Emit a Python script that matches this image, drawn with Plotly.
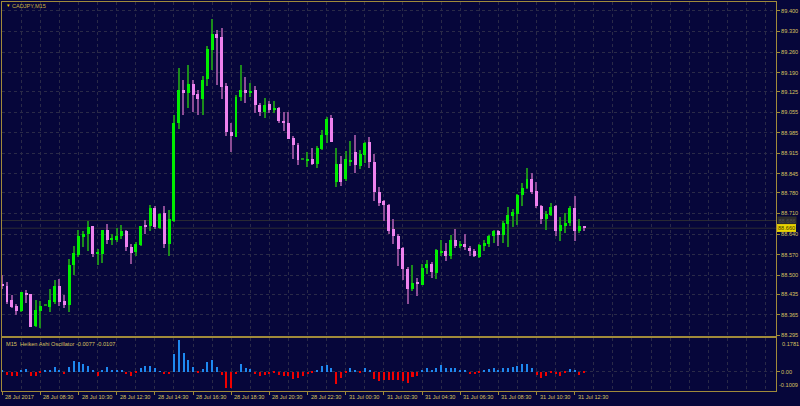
import plotly.graph_objects as go

# ---------------- data (CADJPY M15, 28 Jul 2017 06:30 -> 31 Jul 2017 12:45) ----------------
opens = [88.471, 88.463, 88.414, 88.395, 88.379, 88.438, 88.435, 88.328, 88.378, 88.395,
         88.392, 88.409, 88.463, 88.413, 88.398, 88.536, 88.570, 88.631, 88.640, 88.667,
         88.573, 88.573, 88.653, 88.621, 88.621, 88.633, 88.649, 88.597, 88.579, 88.604,
         88.669, 88.667, 88.729, 88.660, 88.712, 88.607, 88.683, 89.019, 89.132, 89.121,
         89.150, 89.116, 89.101, 89.168, 89.268, 89.320, 89.311, 89.146, 88.987, 88.971,
         89.108, 89.132, 89.121, 89.130, 89.081, 89.055, 89.082, 89.065, 89.069, 89.026,
         89.019, 88.967, 88.944, 88.893, 88.892, 88.897, 88.879, 88.929, 88.976, 89.034,
         88.818, 88.878, 88.827, 88.888, 88.921, 88.872, 88.909, 88.952, 88.887, 88.784,
         88.752, 88.740, 88.658, 88.635, 88.592, 88.522, 88.454, 88.478, 88.468, 88.526,
         88.539, 88.509, 88.575, 88.582, 88.567, 88.621, 88.601, 88.607, 88.593, 88.584,
         88.562, 88.599, 88.607, 88.632, 88.650, 88.637, 88.675, 88.701, 88.709, 88.773,
         88.797, 88.826, 88.786, 88.735, 88.692, 88.706, 88.735, 88.649, 88.667, 88.678,
         88.728, 88.649, 88.667]
highs = [88.502, 88.477, 88.434, 88.403, 88.443, 88.448, 88.437, 88.414, 88.411, 88.395,
         88.454, 88.482, 88.488, 88.431, 88.556, 88.601, 88.655, 88.652, 88.686, 88.669,
         88.590, 88.655, 88.675, 88.641, 88.660, 88.671, 88.655, 88.607, 88.613, 88.669,
         88.689, 88.740, 88.737, 88.712, 88.735, 88.723, 89.044, 89.206, 89.166, 89.216,
         89.166, 89.132, 89.180, 89.281, 89.373, 89.336, 89.341, 89.155, 89.019, 89.115,
         89.217, 89.175, 89.153, 89.143, 89.087, 89.102, 89.093, 89.093, 89.072, 89.057,
         89.057, 88.974, 88.949, 88.893, 88.921, 88.932, 88.940, 88.994, 89.040, 89.047,
         88.932, 88.906, 88.923, 88.957, 88.976, 88.926, 88.952, 88.972, 88.912, 88.802,
         88.757, 88.742, 88.692, 88.641, 88.596, 88.528, 88.536, 88.492, 88.539, 88.550,
         88.545, 88.590, 88.621, 88.610, 88.638, 88.658, 88.618, 88.641, 88.601, 88.590,
         88.607, 88.621, 88.638, 88.654, 88.655, 88.684, 88.731, 88.726, 88.776, 88.814,
         88.864, 88.848, 88.816, 88.739, 88.720, 88.746, 88.739, 88.697, 88.712, 88.735,
         88.771, 88.692, 88.669]
lows = [88.452, 88.403, 88.387, 88.366, 88.376, 88.406, 88.322, 88.324, 88.319, 88.395,
        88.376, 88.403, 88.395, 88.387, 88.376, 88.502, 88.562, 88.596, 88.581, 88.562,
        88.533, 88.542, 88.607, 88.604, 88.613, 88.624, 88.581, 88.539, 88.565, 88.599,
        88.641, 88.649, 88.658, 88.658, 88.592, 88.567, 88.681, 88.997, 89.047, 89.070,
        89.055, 89.047, 89.047, 89.143, 89.200, 89.149, 89.101, 88.974, 88.918, 88.969,
        89.093, 89.087, 89.108, 89.053, 89.042, 89.036, 89.053, 89.053, 89.019, 88.991,
        88.963, 88.895, 88.875, 88.893, 88.867, 88.876, 88.865, 88.926, 88.949, 88.952,
        88.802, 88.804, 88.821, 88.872, 88.848, 88.861, 88.881, 88.865, 88.754, 88.737,
        88.686, 88.641, 88.607, 88.531, 88.482, 88.403, 88.445, 88.430, 88.465, 88.505,
        88.491, 88.488, 88.567, 88.548, 88.554, 88.592, 88.592, 88.587, 88.567, 88.562,
        88.559, 88.582, 88.596, 88.610, 88.601, 88.610, 88.596, 88.663, 88.671, 88.735,
        88.793, 88.776, 88.728, 88.675, 88.655, 88.701, 88.632, 88.618, 88.644, 88.669,
        88.618, 88.644, 88.649]
closes = [88.463, 88.409, 88.390, 88.378, 88.441, 88.431, 88.325, 88.381, 88.395, 88.395,
          88.414, 88.463, 88.409, 88.398, 88.536, 88.576, 88.633, 88.640, 88.665, 88.573,
          88.579, 88.653, 88.621, 88.626, 88.635, 88.649, 88.596, 88.576, 88.607, 88.667,
          88.665, 88.729, 88.665, 88.708, 88.607, 88.692, 89.019, 89.130, 89.119, 89.150,
          89.115, 89.101, 89.166, 89.270, 89.321, 89.307, 89.141, 88.987, 88.974, 89.108,
          89.132, 89.121, 89.129, 89.081, 89.055, 89.081, 89.064, 89.069, 89.025, 89.021,
          88.965, 88.944, 88.893, 88.893, 88.895, 88.878, 88.932, 88.977, 89.031, 88.955,
          88.878, 88.818, 88.897, 88.893, 88.876, 88.912, 88.949, 88.886, 88.782, 88.746,
          88.740, 88.652, 88.635, 88.590, 88.522, 88.452, 88.475, 88.469, 88.526, 88.539,
          88.511, 88.587, 88.582, 88.567, 88.621, 88.601, 88.607, 88.596, 88.582, 88.564,
          88.604, 88.610, 88.633, 88.649, 88.638, 88.678, 88.705, 88.714, 88.773, 88.796,
          88.826, 88.782, 88.735, 88.692, 88.709, 88.731, 88.649, 88.671, 88.678, 88.728,
          88.649, 88.667, 88.660]
osc = [0.005, -0.0175, -0.023, -0.023, 0.004, 0.012, -0.021, -0.021, -0.004, 0.011,
       0.011, 0.023, 0.011, -0.011, 0.026, 0.056, 0.053, 0.040, 0.028, 0.005,
       -0.025, 0.005, 0.023, 0.005, 0.007, 0.011, -0.011, -0.021, -0.007, 0.019,
       0.028, 0.030, 0.018, 0.003, -0.014, -0.014, 0.096, 0.170, 0.098, 0.060,
       0.025, -0.002, 0.014, 0.053, 0.063, 0.026, -0.016, -0.086, -0.086, -0.011,
       0.042, 0.018, 0.012, -0.011, -0.023, -0.016, -0.011, -0.009, -0.0175, -0.021,
       -0.023, -0.039, -0.033, -0.023, -0.011, -0.005, 0.004, 0.030, 0.035, 0.018,
       -0.063, -0.033, -0.009, 0.018, 0.011, -0.005, 0.018, 0.009, -0.039, -0.051,
       -0.044, -0.044, -0.044, -0.044, -0.051, -0.060, -0.030, -0.021, 0.009, 0.018,
       0.011, 0.018, 0.033, 0.018, 0.018, 0.019, 0.005, 0.004, -0.011, -0.011,
       -0.004, 0.011, 0.014, 0.018, 0.011, 0.018, 0.019, 0.025, 0.030, 0.039,
       0.039, 0.018, -0.0175, -0.035, -0.025, -0.002, -0.011, -0.023, -0.007, 0.012,
       0.005, -0.016, -0.007]

time_tick_idx = [0, 8, 16, 24, 32, 40, 48, 56, 64, 72, 80, 88, 96, 104, 112, 120]
time_tick_text = ["28 Jul 2017", "28 Jul 08:30", "28 Jul 10:30", "28 Jul 12:30",
                  "28 Jul 14:30", "28 Jul 16:30", "28 Jul 18:30", "28 Jul 20:30",
                  "28 Jul 22:30", "31 Jul 00:30", "31 Jul 02:30", "31 Jul 04:30",
                  "31 Jul 06:30", "31 Jul 08:30", "31 Jul 10:30", "31 Jul 12:30"]
price_ticks = [89.400, 89.330, 89.260, 89.190, 89.125, 89.055, 88.985, 88.915, 88.845,
               88.780, 88.710, 88.640, 88.570, 88.500, 88.435, 88.365, 88.295]
bid_price = 88.660
ask_price = 88.686
osc_max = 0.1781
osc_min = -0.1009
osc_header = "M15\u00a0\u00a0Heiken Ashi Oscillator -0.0077 -0.0107"
symbol_title = "CADJPY,M15"

# ---------------- styling ----------------
BG = "#06063a"
GOLD = "#a08a3a"
TXT = "#d8c060"
GRID = "#2a2a48"
BULL_BODY = "#00ee00"
BEAR_BODY = "#ee82ee"
BULL_WICK = "#1c8c1c"
BEAR_WICK = "#8c4c96"
FONT = "Liberation Sans"
FS = 5.6

W, H = 800, 406
PX_L, PX_R, PX_T, PX_B = 2, 776, 2, 338
OSC_T, OSC_B = 340, 393
X0, X1 = -0.05, 162.2

n = len(opens)
xs = list(range(n))
min_body = 0.0034

fig = go.Figure()

def add_wicks(idx, color_wick):
    fig.add_trace(go.Bar(
        x=[xs[i] for i in idx], y=[highs[i] - lows[i] for i in idx],
        base=[lows[i] for i in idx], width=0.24,
        marker=dict(color=color_wick, line=dict(width=0)),
        xaxis="x", yaxis="y", hoverinfo="skip"))

bull_idx = [i for i in range(n) if closes[i] > opens[i]]
bear_idx = [i for i in range(n) if closes[i] < opens[i]]
flat_idx = [i for i in range(n) if closes[i] == opens[i]]

add_wicks(bull_idx + flat_idx, BULL_WICK)
add_wicks(bear_idx, BEAR_WICK)

for idx, col in ((bull_idx, BULL_BODY), (bear_idx, BEAR_BODY), (flat_idx, BULL_WICK)):
    fig.add_trace(go.Bar(
        x=[xs[i] for i in idx],
        y=[max(abs(closes[i] - opens[i]), min_body) for i in idx],
        base=[min(opens[i], closes[i]) for i in idx], width=0.62,
        marker=dict(color=col, line=dict(width=0)),
        xaxis="x", yaxis="y", hoverinfo="skip"))

pos = [i for i in range(n) if osc[i] >= 0]
neg = [i for i in range(n) if osc[i] < 0]
fig.add_trace(go.Bar(x=[xs[i] for i in pos], y=[osc[i] for i in pos], width=0.42,
                     marker=dict(color="#1e88f0", line=dict(width=0)),
                     xaxis="x2", yaxis="y2", hoverinfo="skip"))
fig.add_trace(go.Bar(x=[xs[i] for i in neg], y=[osc[i] for i in neg], width=0.42,
                     marker=dict(color="#f00000", line=dict(width=0)),
                     xaxis="x2", yaxis="y2", hoverinfo="skip"))

xdom = [PX_L / W, PX_R / W]
common_x = dict(domain=xdom, range=[X0, X1], zeroline=False, showline=True,
                linecolor=GOLD, linewidth=1, mirror=True, fixedrange=True)

fig.update_layout(
    width=W, height=H, margin=dict(l=0, r=0, t=0, b=0),
    paper_bgcolor=BG, plot_bgcolor=BG, showlegend=False,
    barmode="overlay", bargap=0,
    font=dict(family=FONT, size=FS, color=TXT),
    xaxis=dict(**common_x, anchor="y", showticklabels=False, ticks="",
               tick0=0, dtick=4, showgrid=True, gridcolor=GRID, griddash="dot", gridwidth=1),
    yaxis=dict(domain=[(H - PX_B) / H, (H - PX_T) / H],
               range=[89.400 - (PX_B - 11) * 1.105 / 326, 89.400 + (11 - PX_T) * 1.105 / 326],
               side="right", tickvals=price_ticks, ticktext=[f"{v:.3f}" for v in price_ticks],
               ticks="outside", ticklen=3, tickcolor=GOLD, tickfont=dict(size=FS, color=TXT),
               showgrid=True, gridcolor=GRID, griddash="dot", zeroline=False,
               showline=True, linecolor=GOLD, linewidth=1, mirror=True, fixedrange=True),
    xaxis2=dict(**common_x, anchor="y2", tickvals=time_tick_idx, ticktext=[""] * len(time_tick_idx),
                ticks="outside", ticklen=3, tickcolor=GOLD,
                showgrid=True, gridcolor=GRID, griddash="dot",
                minor=dict(tick0=0, dtick=4, showgrid=True, gridcolor=GRID, griddash="dot", ticks="")),
    yaxis2=dict(domain=[(H - OSC_B) / H, (H - OSC_T) / H], range=[osc_min, osc_max],
                side="right", tickvals=[0], ticktext=["0.00"], ticks="outside", ticklen=3,
                tickcolor=GOLD, tickfont=dict(size=FS, color=TXT),
                showgrid=True, gridcolor=GRID, griddash="dot", zeroline=False,
                showline=True, linecolor=GOLD, linewidth=1, mirror=True, fixedrange=True),
)

# bid / ask lines
for p in (ask_price, bid_price):
    fig.add_shape(type="line", xref="x domain", x0=0, x1=1, yref="y", y0=p, y1=p,
                  line=dict(color="#2c2c34", width=1), layer="below")

ann = []
# title
ann.append(dict(xref="paper", yref="paper", x=4 / W, y=1 - 6 / H, text="\u25bc",
                showarrow=False, xanchor="left", yanchor="middle",
                font=dict(size=4.5, color="#e8c800")))
ann.append(dict(xref="paper", yref="paper", x=10 / W, y=1 - 6.5 / H, text=symbol_title,
                showarrow=False, xanchor="left", yanchor="middle",
                font=dict(size=FS, color="#c8b040")))
# oscillator header
ann.append(dict(xref="paper", yref="paper", x=4 / W, y=1 - 345.5 / H, text=osc_header,
                showarrow=False, xanchor="left", yanchor="middle",
                font=dict(size=FS, color=TXT)))
# oscillator max/min labels
ann.append(dict(xref="paper", yref="y2", x=780 / W, y=osc_max, text=f"{osc_max:.4f}",
                showarrow=False, xanchor="left", yanchor="top", yshift=-1,
                font=dict(size=FS, color=TXT)))
ann.append(dict(xref="paper", yref="y2", x=799.5 / W, y=osc_min, text=f"{osc_min:.4f}",
                showarrow=False, xanchor="right", yanchor="bottom", yshift=1,
                font=dict(size=FS, color=TXT)))
# time labels
for i, t in zip(time_tick_idx, time_tick_text):
    ann.append(dict(xref="x2", yref="paper", x=i, y=1 - 398.5 / H, text=t,
                    showarrow=False, xanchor="left", yanchor="middle", xshift=1,
                    font=dict(size=FS, color=TXT)))
# ask / bid price boxes
ann.append(dict(xref="paper", yref="y", x=777 / W, y=ask_price, text=f"{ask_price:.3f}",
                showarrow=False, xanchor="left", yanchor="middle",
                bgcolor="#2c2c2c", borderpad=0.5, font=dict(size=FS, color="#505050")))
ann.append(dict(xref="paper", yref="y", x=777 / W, y=bid_price, text=f"{bid_price:.3f}",
                showarrow=False, xanchor="left", yanchor="middle",
                bgcolor="#e8d400", bordercolor="#ffe600", borderwidth=0.5, borderpad=0.5,
                font=dict(size=FS, color="#3a3000")))
fig.update_layout(annotations=ann)

fig.write_html("out.html", config={"displayModeBar": False},
               post_script="document.body.style.margin='0';document.body.style.background='" + BG + "';")
